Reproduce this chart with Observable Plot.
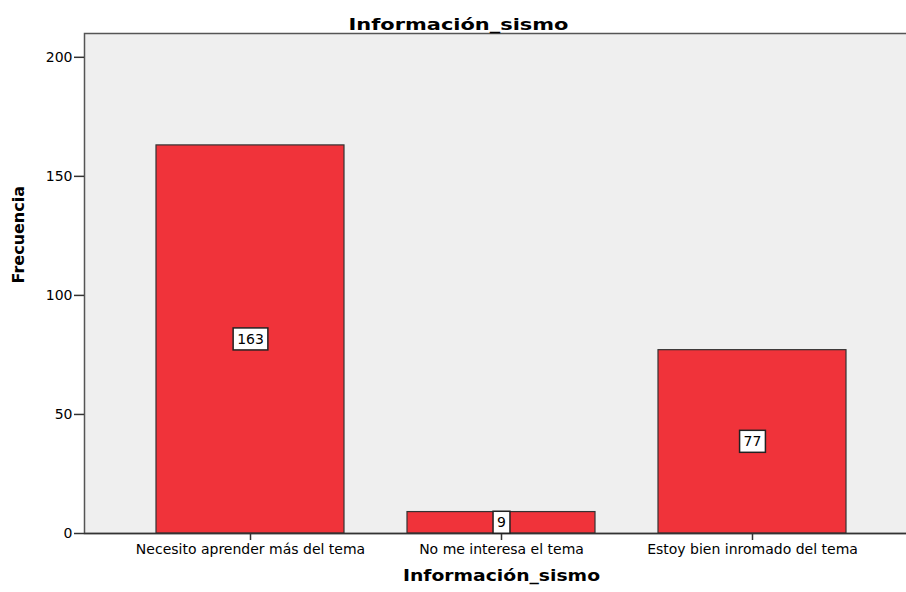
<!DOCTYPE html>
<html>
<head>
<meta charset="utf-8">
<script src="https://cdn.jsdelivr.net/npm/d3@7"></script>
<script src="https://cdn.jsdelivr.net/npm/@observablehq/plot@0.6"></script>
<style>
  html, body { margin: 0; padding: 0; background: #fff; overflow: hidden; }
  #chart svg { display: block; max-width: none !important; font-family: "DejaVu Sans", sans-serif; }
</style>
</head>
<body>
<div id="chart"></div>
<script>
const categories = ["Necesito aprender más del tema", "No me interesa el tema", "Estoy bien inromado del tema"];
const values = [163, 9, 77];
const yTicks = [0, 50, 100, 150, 200];
const titleText = "Información_sismo";
const xLabelText = "Información_sismo";
const yLabelText = "Frecuencia";

const data = categories.map((c, i) => ({cat: c, value: values[i]}));

const W = 910, H = 592;
const plot = Plot.plot({
  width: W,
  height: H,
  marginLeft: 84,
  marginRight: 0,
  marginTop: 33,
  marginBottom: 59,
  style: {fontFamily: "DejaVu Sans, sans-serif", color: "#000", background: "#fff", maxWidth: "none"},
  x: {domain: categories, range: [84, 918], paddingInner: 0.25, paddingOuter: 0.286, label: null},
  y: {domain: [0, 210], label: null},
  marks: [
    Plot.frame({fill: "#EFEFEF", stroke: "#555", strokeWidth: 1.5}),
    Plot.barY(data, {x: "cat", y: "value", fill: "#F0333A", stroke: "#333", strokeWidth: 1.2}),
    Plot.ruleY([0], {stroke: "#333", strokeWidth: 1.5}),
    Plot.axisY({ticks: yTicks, tickSize: 10, tickPadding: 2, fontSize: 14, stroke: "#333", strokeWidth: 1.5, label: null}),
    Plot.axisX({tickSize: 7, tickPadding: 4, fontSize: 14, stroke: "#333", strokeWidth: 1.5, label: null}),
    Plot.text(data, {x: "cat", y: d => d.value / 2, text: d => String(d.value), fontSize: 14, fill: "#000", ariaDescription: "barlabel"}),
    Plot.text([titleText], {frameAnchor: "top", dx: -39, dy: -15, fontSize: 16, fontWeight: "bold", fill: "#000", ariaDescription: "titlelabel"}),
    Plot.text([xLabelText], {frameAnchor: "bottom", dx: 4, dy: 47, fontSize: 16, fontWeight: "bold", fill: "#000", ariaDescription: "xlabel"}),
    Plot.text([yLabelText], {frameAnchor: "left", dx: -66, rotate: -90, fontSize: 16, fontWeight: "bold", fill: "#000", ariaDescription: "ylabel"})
  ]
});
document.getElementById("chart").appendChild(plot);

const pick = (desc, fallback) => {
  let els = Array.from(plot.querySelectorAll(`g[aria-description="${desc}"] text`));
  if (!els.length) els = Array.from(plot.querySelectorAll("text")).filter(fallback);
  return els;
};

// widen title and x label to the reference width
const titleEls = pick("titlelabel", t => t.textContent === titleText && t.getBBox().y < 40);
titleEls.forEach(t => { t.setAttribute("textLength", 220); t.setAttribute("lengthAdjust", "spacingAndGlyphs"); });
const xlEls = pick("xlabel", t => t.textContent === xLabelText && t.getBBox().y > 540);
xlEls.forEach(t => { t.setAttribute("textLength", 197); t.setAttribute("lengthAdjust", "spacingAndGlyphs"); });

// white boxes behind bar value labels
const valStrings = values.map(String);
pick("barlabel", t => valStrings.includes(t.textContent)).forEach(t => {
  const b = t.getBBox();
  const tr = t.getAttribute("transform");
  const r = document.createElementNS("http://www.w3.org/2000/svg", "rect");
  r.setAttribute("x", b.x - 4);
  r.setAttribute("y", b.y - 3);
  r.setAttribute("width", b.width + 8);
  r.setAttribute("height", b.height + 6);
  r.setAttribute("fill", "#fff");
  r.setAttribute("stroke", "#222");
  r.setAttribute("stroke-width", 1.5);
  if (tr) r.setAttribute("transform", tr);
  t.parentNode.insertBefore(r, t);
});
</script>
</body>
</html>
